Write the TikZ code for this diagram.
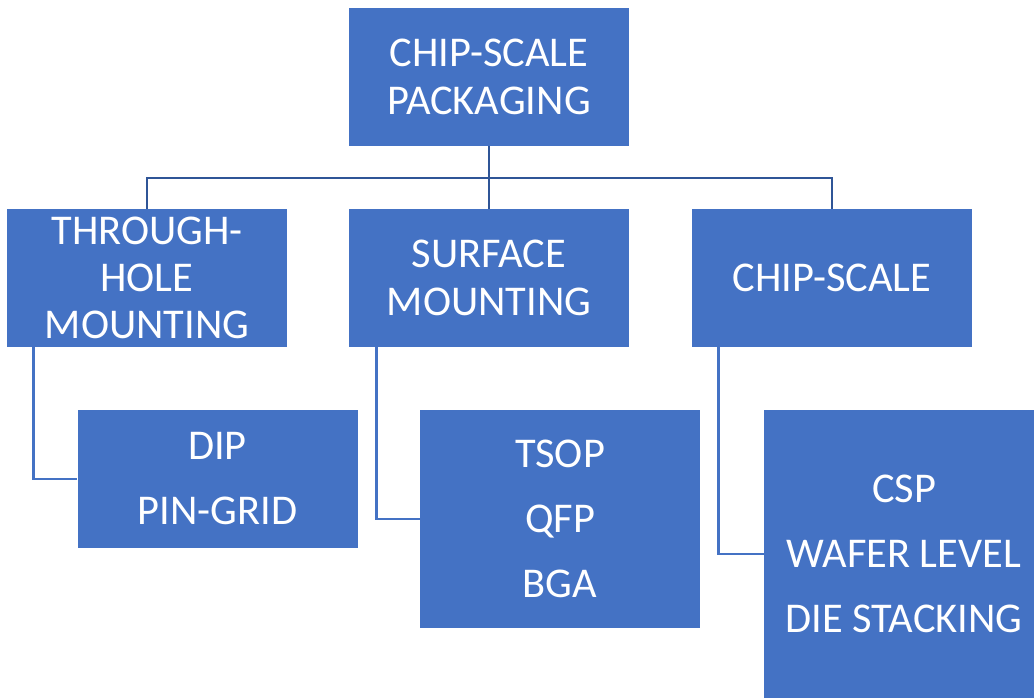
\documentclass[tikz,border=0pt]{standalone}
\usepackage{fontspec}
\setmainfont{Carlito}
\usepackage{xcolor}
\usepackage{tikz}
\usetikzlibrary{positioning}
\definecolor{OffBlue}{RGB}{68,114,196}
\definecolor{OffNavy}{RGB}{47,85,151}

\begin{document}
\begin{tikzpicture}[x=0.75pt, y=-0.75pt,
          box/.style={rectangle, fill=OffBlue, text=white, align=center,
                      minimum width=210pt, minimum height=103.5pt, inner sep=0pt,
                      font=\fontsize{31.8}{35.5}\selectfont},
          leaf/.style={box, font=\fontsize{31.8}{48.75}\selectfont},
          bus/.style={draw=OffNavy, line width=1.5pt},
          elbow/.style={draw=OffBlue, line width=1.9pt}
        ]
        \useasboundingbox (0,0) rectangle (1034,698);
        \clip (0,0) rectangle (1034,698);

        \node[box] (top)  at (489, 77)  {CHIP-SCALE\\PACKAGING};
        \node[box] (th)   at (147, 278) {THROUGH-\\HOLE\\MOUNTING};
        \node[box] (surf) at (489, 278) {SURFACE\\MOUNTING};
        \node[box] (cs)   at (832, 278) {CHIP-SCALE};

        \node[leaf] (dip)  at (217.5, 479) {DIP\\PIN-GRID};
        \node[leaf, minimum height=163.5pt] (tsop) at (560, 519)
              {TSOP\\QFP\\BGA};
        \node[leaf, minimum height=216pt] (csp) at (904, 554)
              {CSP\\WAFER LEVEL\\DIE STACKING};

        \coordinate (hub) at (489, 178);
        \draw[bus] (top.south) -- (surf.north);
        \draw[bus] (th.north) |- (hub) -| (cs.north);

        \draw[elbow] (th.south west)   ++(27,0) |- (dip.west);
        \draw[elbow] (surf.south west) ++(28,0) |- (tsop.west);
        \draw[elbow] (cs.south west)   ++(27,0) |- (csp.west);
\end{tikzpicture}
\end{document}
